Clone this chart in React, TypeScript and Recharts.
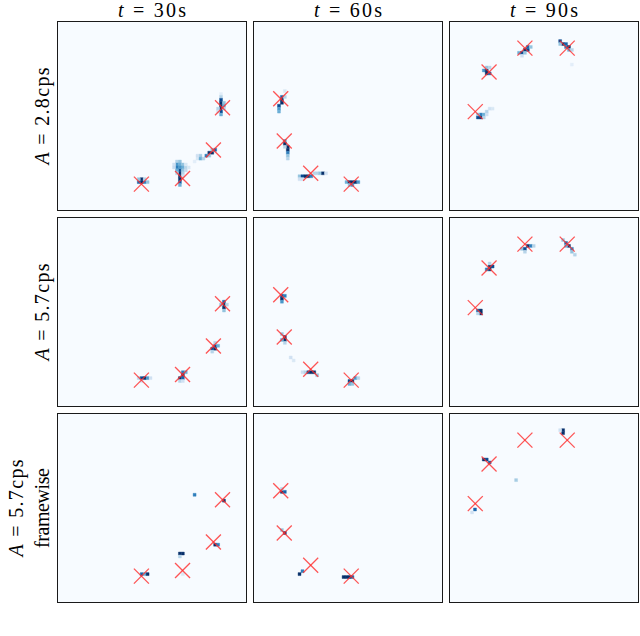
import { ScatterChart, Scatter, XAxis, YAxis, ReferenceArea } from 'recharts'

// column / row labels
const timeLabels = ['30s', '60s', '90s']
const rowLabels = [['A = 2.8cps'], ['A = 5.7cps'], ['A = 5.7cps', 'framewise']]

// ground-truth source positions (grid units, 64x64, row counted from top), one list per time
const targets30: [number, number][] = [[28.4, 55.2], [42.4, 53.3], [52.9, 43.6], [56.0, 29.2]]
const targets60: [number, number][] = [[9.1, 26.1], [10.3, 40.5], [19.3, 51.5], [33.1, 55.2]]
const targets90: [number, number][] = [[25.5, 8.9], [39.9, 8.9], [13.3, 17.0], [8.6, 30.5]]

// heatmap cells: [col, row, intensity 0..1]
type Cell = [number, number, number]

const heatA28t30: Cell[] = [
  [28, 53, 1], [28, 54, 1], [27, 54, 0.8], [29, 54, 0.7], [30, 54, 0.4], [27, 53, 0.4], [29, 53, 0.3],
  [41, 50, 0.9], [41, 51, 1], [41, 52, 1], [41, 53, 1], [41, 54, 0.85], [41, 55, 0.5],
  [40, 47, 0.3], [41, 47, 0.4], [40, 48, 0.6], [41, 48, 0.5], [42, 48, 0.4], [40, 49, 0.7], [42, 49, 0.5],
  [43, 49, 0.3], [42, 50, 0.4], [43, 50, 0.25], [44, 49, 0.15], [42, 51, 0.3], [40, 50, 0.5], [41, 49, 0.6],
  [40, 51, 0.3], [42, 52, 0.2], [43, 48, 0.15], [39, 48, 0.2], [39, 49, 0.25],
  [46, 47, 0.1], [47, 46, 0.15], [48, 45, 0.35], [48, 46, 0.5], [49, 46, 0.3], [47, 45, 0.2],
  [50, 45, 0.7], [51, 44, 1], [52, 44, 1], [53, 43, 0.8], [52, 43, 0.4], [51, 45, 0.4],
  [55, 24, 0.1], [55, 25, 0.3], [55, 26, 0.9], [55, 27, 1], [55, 28, 1], [55, 29, 1], [55, 30, 0.9],
  [55, 31, 0.5], [56, 27, 0.4], [56, 28, 0.5], [56, 29, 0.3], [54, 29, 0.3], [54, 30, 0.2],
]
const heatA28t60: Cell[] = [
  [10, 23, 0.15], [9, 25, 0.8], [9, 26, 1], [9, 27, 1], [8, 28, 0.9], [8, 29, 0.6], [8, 30, 0.5], [10, 25, 0.3],
  [10, 40, 0.6], [10, 41, 1], [11, 42, 1], [11, 43, 1], [11, 44, 0.7], [11, 45, 0.4], [11, 46, 0.3], [10, 42, 0.3],
  [15, 52, 0.4], [16, 52, 0.9], [17, 52, 1], [18, 52, 1], [19, 52, 0.7], [20, 51, 0.3], [21, 51, 0.3],
  [22, 51, 0.4], [23, 51, 1], [24, 51, 0.2], [15, 53, 0.2], [16, 53, 0.2],
  [31, 54, 0.5], [32, 54, 1], [33, 54, 1], [34, 54, 1], [35, 54, 0.6], [32, 55, 0.4], [33, 55, 0.6],
]
const heatA28t90: Cell[] = [
  [23, 10, 0.5], [24, 10, 0.9], [25, 9, 1], [26, 9, 0.9], [26, 8, 0.8], [27, 8, 0.4], [25, 10, 0.4], [24, 11, 0.2],
  [37, 6, 0.9], [38, 7, 1], [39, 7, 0.8], [39, 8, 0.7], [40, 8, 1], [40, 9, 0.5], [41, 9, 0.3], [37, 7, 0.4],
  [41, 14, 0.1],
  [11, 16, 0.6], [12, 16, 1], [12, 17, 1], [13, 17, 0.8], [12, 15, 0.4], [13, 15, 0.3],
  [9, 32, 0.9], [10, 32, 1], [10, 31, 0.7], [11, 31, 0.5], [12, 30, 0.3], [13, 29, 0.2], [14, 29, 0.15],
  [9, 31, 0.4], [11, 32, 0.3], [12, 31, 0.2],
]
const heatA57t30: Cell[] = [
  [27, 54, 0.3], [28, 54, 0.9], [29, 54, 1], [30, 54, 0.6], [31, 54, 0.2], [28, 55, 0.2],
  [42, 52, 0.7], [43, 52, 0.5], [42, 53, 1], [41, 54, 1], [42, 54, 0.8], [41, 55, 0.3], [42, 55, 0.2],
  [53, 43, 0.9], [53, 44, 1], [52, 44, 0.9], [54, 43, 0.5], [53, 42, 0.3], [52, 45, 0.3],
  [56, 28, 0.8], [56, 29, 1], [56, 30, 1], [55, 29, 0.4], [57, 29, 0.3], [56, 31, 0.4],
]
const heatA57t60: Cell[] = [
  [9, 26, 0.9], [10, 26, 0.7], [9, 27, 1], [9, 28, 0.6],
  [9, 39, 0.4], [10, 40, 1], [10, 41, 1], [9, 41, 0.5], [10, 42, 0.3],
  [12, 47, 0.2], [13, 48, 0.15],
  [16, 52, 0.2], [17, 52, 0.3], [18, 52, 0.9], [19, 52, 1], [20, 52, 1], [21, 53, 0.4],
  [32, 55, 0.9], [33, 55, 1], [34, 54, 0.6], [35, 54, 0.3], [32, 56, 0.5], [33, 56, 0.4],
]
const heatA57t90: Cell[] = [
  [24, 10, 0.4], [25, 10, 0.9], [26, 9, 1], [27, 9, 0.7], [28, 9, 0.3], [25, 11, 0.3],
  [38, 7, 0.4], [39, 8, 0.8], [40, 9, 1], [41, 10, 0.7], [41, 11, 0.4], [42, 12, 0.3], [39, 9, 0.5],
  [13, 16, 1], [14, 16, 0.9], [13, 17, 1], [12, 17, 0.7], [13, 15, 0.3],
  [9, 31, 0.8], [10, 31, 1], [10, 32, 1], [9, 32, 0.3],
]
const heatFwT30: Cell[] = [
  [46, 27, 0.7],
  [56, 29, 1],
  [41, 47, 1], [42, 47, 1], [41, 48, 0.3],
  [53, 44, 1], [54, 44, 0.7],
  [28, 54, 0.8], [29, 54, 0.5], [30, 54, 1],
  [42, 54, 0.15],
]
const heatFwT60: Cell[] = [
  [9, 26, 1], [10, 26, 0.8], [9, 25, 0.3],
  [9, 39, 0.4], [10, 40, 1],
  [16, 53, 0.7], [15, 54, 1],
  [30, 55, 1], [31, 55, 1], [32, 55, 1], [33, 55, 0.8],
]
const heatFwT90: Cell[] = [
  [38, 5, 1], [38, 6, 1], [37, 5, 0.2],
  [11, 15, 1], [12, 15, 0.9], [13, 16, 0.8],
  [22, 22, 0.35],
  [8, 32, 0.8], [7, 33, 0.2],
]

const heatGrid: Cell[][][] = [
  [heatA28t30, heatA28t60, heatA28t90],
  [heatA57t30, heatA57t60, heatA57t90],
  [heatFwT30, heatFwT60, heatFwT90],
]
const targetsByCol = [targets30, targets60, targets90]

const colLeft = [57, 253, 449]
const rowTop = [21, 217, 413]
const PANEL = 190

const bluesStops = ['#f7fbff', '#deebf7', '#c6dbef', '#9ecae1', '#6baed6', '#4292c6', '#2171b5', '#08519c', '#08306b']

function blues(v: number) {
  const t = Math.max(0, Math.min(1, v)) * (bluesStops.length - 1)
  const i = Math.min(Math.floor(t), bluesStops.length - 2)
  const f = t - i
  const a = parseInt(bluesStops[i].slice(1), 16)
  const b = parseInt(bluesStops[i + 1].slice(1), 16)
  const mix = (s: number) => Math.round(((a >> s) & 255) * (1 - f) + ((b >> s) & 255) * f)
  return `rgb(${mix(16)}, ${mix(8)}, ${mix(0)})`
}

const XMark = (props: any) => {
  const { cx, cy } = props
  const h = 7.5
  return (
    <g stroke="#ff2a2a" strokeOpacity={0.8} strokeWidth={1.3}>
      <line x1={cx - h} y1={cy - h} x2={cx + h} y2={cy + h} />
      <line x1={cx - h} y1={cy + h} x2={cx + h} y2={cy - h} />
    </g>
  )
}

function Panel({ cells, targets, left, top }: { cells: Cell[]; targets: [number, number][]; left: number; top: number }) {
  const inner = PANEL - 2
  return (
    <div
      style={{
        position: 'absolute',
        left,
        top,
        width: PANEL,
        height: PANEL,
        boxSizing: 'border-box',
        border: '1px solid #1a1a1a',
        background: '#f7fbff',
      }}
    >
      <ScatterChart width={inner} height={inner} margin={{ top: 0, right: 0, bottom: 0, left: 0 }}>
        <XAxis type="number" dataKey="x" domain={[0, 64]} allowDataOverflow hide />
        <YAxis type="number" dataKey="y" domain={[0, 64]} allowDataOverflow reversed hide />
        {cells.map(([c, r, v], i) => (
          <ReferenceArea
            key={i}
            x1={c}
            x2={c + 1}
            y1={r}
            y2={r + 1}
            fill={blues(v)}
            fillOpacity={1}
            stroke={blues(v)}
            strokeWidth={0.4}
            ifOverflow="visible"
          />
        ))}
        <Scatter data={targets.map(([x, y]) => ({ x, y }))} shape={XMark} isAnimationActive={false} />
      </ScatterChart>
    </div>
  )
}

export default function App() {
  const font = '"Liberation Serif", "DejaVu Serif", serif'
  return (
    <div style={{ position: 'absolute', left: 0, top: 0, width: 640, height: 636, background: '#fff' }}>
      {heatGrid.map((row, ri) =>
        row.map((cells, ci) => (
          <Panel key={`${ri}-${ci}`} cells={cells} targets={targetsByCol[ci]} left={colLeft[ci]} top={rowTop[ri]} />
        ))
      )}
      <svg width={640} height={636} style={{ position: 'absolute', left: 0, top: 0, pointerEvents: 'none' }}>
        {timeLabels.map((lbl, i) => (
          <text
            key={lbl}
            x={colLeft[i] + PANEL / 2}
            y={17}
            textAnchor="middle"
            fontFamily={font}
            fontSize={20}
            fill="#000"
            textLength={68}
            lengthAdjust="spacing"
          >
            <tspan fontStyle="italic">t</tspan>
            <tspan> = {lbl}</tspan>
          </text>
        ))}
        {rowLabels.map((lines, ri) => {
          const cy = rowTop[ri] + PANEL / 2
          return lines.map((line, li) => {
            const bx = lines.length === 1 ? 49 : li === 0 ? 23 : 49
            const isMath = line.startsWith('A')
            return (
              <text
                key={`${ri}-${li}`}
                transform={`translate(${bx}, ${cy}) rotate(-90)`}
                textAnchor="middle"
                fontFamily={font}
                fontSize={20}
                fill="#000"
                textLength={isMath ? 97 : 80}
                lengthAdjust="spacing"
              >
                {isMath ? (
                  <>
                    <tspan fontStyle="italic">A</tspan>
                    <tspan>{line.slice(1)}</tspan>
                  </>
                ) : (
                  line
                )}
              </text>
            )
          })
        })}
      </svg>
    </div>
  )
}
